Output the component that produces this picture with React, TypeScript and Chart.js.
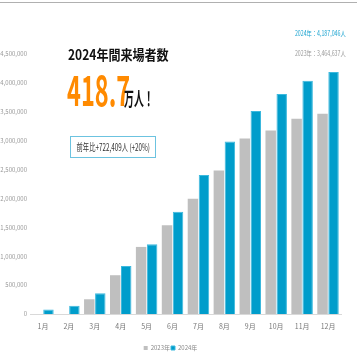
import React, { useEffect, useRef } from "react";
import { Chart, registerables } from "chart.js";

Chart.register(...registerables);

const months = ["1月", "2月", "3月", "4月", "5月", "6月", "7月", "8月", "9月", "10月", "11月", "12月"];
const visitors2023 = [0, 0, 255000, 671000, 1161000, 1537000, 1993000, 2484000, 3038000, 3177000, 3380000, 3464637];
const visitors2024 = [78000, 142000, 359000, 832000, 1208000, 1768000, 2404000, 2986000, 3513000, 3808000, 4038000, 4187046];
const seriesNames = ["2023年", "2024年"];
const yTicks = [0, 500000, 1000000, 1500000, 2000000, 2500000, 3000000, 3500000, 4000000, 4500000];

const titleText = "2024年間来場者数";
const bigNumber = "418.7";
const bigUnit = "万人！";
const diffText = "前年比+722,409人 (+20%)";
const total2024 = "2024年：4,187,046人";
const total2023 = "2023年：3,464,637人";

const GRAY = "#bfbfbf";
const BLUE = "#009dcb";
const TICK_FONT = "'Liberation Sans Narrow', 'Noto Sans CJK JP', sans-serif";
const CJK = "'Noto Sans CJK JP', 'Noto Sans', sans-serif";

export default function App() {
  const canvasRef = useRef<HTMLCanvasElement | null>(null);

  useEffect(() => {
    const canvas = canvasRef.current;
    if (!canvas) return;
    const chart = new Chart(canvas, {
      type: "bar",
      data: {
        labels: months,
        datasets: [
          {
            label: seriesNames[0],
            data: visitors2023,
            backgroundColor: GRAY,
            borderWidth: 0,
            barPercentage: 0.95,
            categoryPercentage: 0.85,
          },
          {
            label: seriesNames[1],
            data: visitors2024,
            backgroundColor: BLUE,
            borderColor: "#3cb9de",
            borderWidth: 1,
            barPercentage: 0.95,
            categoryPercentage: 0.85,
          },
        ],
      },
      options: {
        responsive: false,
        animation: false,
        layout: { padding: { top: 54, right: 16, left: 0, bottom: 0 } },
        plugins: {
          tooltip: { enabled: false },
          legend: {
            position: "bottom",
            labels: {
              boxWidth: 4,
              boxHeight: 4,
              padding: 1,
              color: "#888",
              font: { size: 6, family: TICK_FONT },
            },
          },
        },
        scales: {
          x: {
            grid: { display: false, drawTicks: false },
            border: { display: true, color: "#d9d9d9" },
            ticks: { color: "#777", font: { size: 7, family: TICK_FONT }, padding: 8, maxRotation: 0 },
            afterFit: (s: any) => {
              s.height = 30;
            },
          },
          y: {
            min: 0,
            max: 4500000,
            afterBuildTicks: (s: any) => {
              s.ticks = yTicks.map((v) => ({ value: v }));
            },
            grid: { display: false, drawTicks: false },
            border: { display: false },
            ticks: {
              color: "#999",
              font: { size: 6, family: TICK_FONT },
              padding: 3,
              callback: (v: any) => Number(v).toLocaleString("en-US"),
            },
            afterFit: (s: any) => {
              s.width = 30;
            },
          },
        },
      },
    });
    return () => chart.destroy();
  }, []);

  return (
    <div style={{ position: "absolute", left: 0, top: 0, width: 357, height: 357, background: "#fff", overflow: "hidden" }}>
      <div style={{ position: "absolute", left: 0, top: 2, width: 357, height: 1, background: "#b0b0b0" }} />
      <canvas ref={canvasRef} width={357} height={361} style={{ position: "absolute", left: 0, top: 0 }} />
      <div
        style={{
          position: "absolute", left: 68, top: 44, fontFamily: CJK, fontWeight: 700, fontSize: 14,
          color: "#111", whiteSpace: "nowrap", transform: "scaleX(0.86)", transformOrigin: "left top", lineHeight: "20px",
        }}
      >
        {titleText}
      </div>
      <div
        style={{
          position: "absolute", left: 67, top: 64, fontFamily: CJK, fontWeight: 700, fontSize: 42,
          color: "#ff8a00", whiteSpace: "nowrap", transform: "scaleX(0.56)", transformOrigin: "left top", lineHeight: "48px",
        }}
      >
        {bigNumber}
      </div>
      <div
        style={{
          position: "absolute", left: 124, top: 86, fontFamily: CJK, fontWeight: 700, fontSize: 19,
          color: "#111", whiteSpace: "nowrap", transform: "scaleX(0.52)", transformOrigin: "left top", lineHeight: "24px",
        }}
      >
        {bigUnit}
      </div>
      <div
        style={{
          position: "absolute", left: 70, top: 136, width: 86, height: 22, border: "1px solid #6cc3e0",
          background: "#fff", boxSizing: "border-box", display: "flex", alignItems: "center", justifyContent: "center",
        }}
      >
        <span
          style={{
            fontFamily: CJK, fontSize: 10, color: "#333", whiteSpace: "nowrap", display: "inline-block",
            transform: "scaleX(0.63)", transformOrigin: "center center", lineHeight: "14px",
          }}
        >
          {diffText}
        </span>
      </div>
      <div
        style={{
          position: "absolute", right: 11, top: 28, fontFamily: CJK, fontSize: 7, color: "#1aa3d0",
          whiteSpace: "nowrap", transform: "scaleX(0.75)", transformOrigin: "right top", lineHeight: "10px",
        }}
      >
        {total2024}
      </div>
      <div
        style={{
          position: "absolute", right: 11, top: 48, fontFamily: CJK, fontSize: 7, color: "#999",
          whiteSpace: "nowrap", transform: "scaleX(0.75)", transformOrigin: "right top", lineHeight: "10px",
        }}
      >
        {total2023}
      </div>
    </div>
  );
}
